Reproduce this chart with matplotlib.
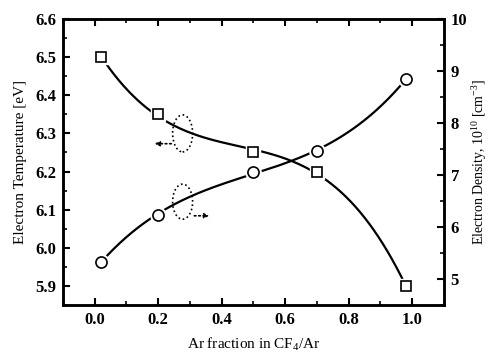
import numpy as np
import matplotlib
matplotlib.use("Agg")
import matplotlib.pyplot as plt
from matplotlib.patches import Ellipse
from matplotlib.ticker import MultipleLocator, FormatStrFormatter

ar_fraction = [0.02, 0.2, 0.5, 0.7, 0.98]
electron_temperature = [6.50, 6.35, 6.25, 6.20, 5.90]
electron_density = [5.33, 6.24, 7.05, 7.46, 8.84]

plt.rcParams['font.family'] = ['Liberation Serif', 'DejaVu Serif']
plt.rcParams['mathtext.fontset'] = 'custom'
plt.rcParams['mathtext.rm'] = 'Liberation Serif'
plt.rcParams['mathtext.it'] = 'Liberation Serif'


def smooth_curve(x, y, deg=3, n=200):
    p = np.polyfit(x, y, deg)
    xs = np.linspace(min(x), max(x), n)
    return xs, np.polyval(p, xs)

fig = plt.figure(figsize=(4.9, 3.52), dpi=100)
ax = fig.add_axes([0.1286, 0.1335, 0.777, 0.8125])
ax2 = ax.twinx()

xs, ys = smooth_curve(ar_fraction, electron_temperature)
ax.plot(xs, ys, color='black', lw=1.6, zorder=2)
ax.plot(ar_fraction, electron_temperature, ls='none', marker='s', ms=10,
        mfc='white', mec='white', zorder=3)
ax.plot(ar_fraction, electron_temperature, ls='none', marker='s', ms=7,
        mfc='white', mec='black', mew=1.2, zorder=4)

xs2, ys2 = smooth_curve(ar_fraction, electron_density)
ax2.plot(xs2, ys2, color='black', lw=1.6, zorder=2)
ax2.plot(ar_fraction, electron_density, ls='none', marker='o', ms=11,
         mfc='white', mec='white', zorder=3)
ax2.plot(ar_fraction, electron_density, ls='none', marker='o', ms=8,
         mfc='white', mec='black', mew=1.2, zorder=4)

ax.set_xlim(-0.1, 1.1)
ax.set_ylim(5.85, 6.6)
ax2.set_ylim(4.5, 10)

ax.xaxis.set_major_locator(MultipleLocator(0.2))
ax.xaxis.set_minor_locator(MultipleLocator(0.1))
ax.yaxis.set_major_locator(MultipleLocator(0.1))
ax.yaxis.set_minor_locator(MultipleLocator(0.05))
ax2.yaxis.set_major_locator(MultipleLocator(1))
ax2.yaxis.set_minor_locator(MultipleLocator(0.5))

ax.tick_params(axis='x', which='both', direction='in', top=True, bottom=True)
ax.tick_params(axis='y', which='both', direction='in', left=True, right=False)
ax2.tick_params(axis='y', which='both', direction='in', right=True)
for a in (ax, ax2):
    a.tick_params(which='major', length=5, width=1.5, labelsize=12, pad=5)
    a.tick_params(which='minor', length=3, width=1.2)
    for s in a.spines.values():
        s.set_linewidth(1.8)
    for lab in a.get_xticklabels() + a.get_yticklabels():
        lab.set_fontweight('bold')

ax.xaxis.set_major_formatter(FormatStrFormatter('%.1f'))
ax.yaxis.set_major_formatter(FormatStrFormatter('%.1f'))
ax2.yaxis.set_major_formatter(FormatStrFormatter('%d'))

ax.set_xlabel('Ar fraction in CF$_4$/Ar', fontsize=11, labelpad=6)
ax.set_ylabel('Electron Temperature [eV]', fontsize=11, labelpad=6)
ax2.set_ylabel('Electron Density, 10$^{10}$ [cm$^{-3}$]', fontsize=10, labelpad=2)

# annotation ellipses with dotted arrows
ax.add_patch(Ellipse((0.277, 6.30), 0.063, 0.097, fill=False, ls=':', lw=1.2, ec='black', zorder=1))
ax.annotate('', xy=(0.18, 6.273), xytext=(0.25, 6.273),
            arrowprops=dict(arrowstyle='-|>', ls=':', lw=1.2, color='black', mutation_scale=7))
ax.add_patch(Ellipse((0.277, 6.121), 0.063, 0.092, fill=False, ls=':', lw=1.2, ec='black', zorder=1))
ax.annotate('', xy=(0.37, 6.084), xytext=(0.305, 6.084),
            arrowprops=dict(arrowstyle='-|>', ls=':', lw=1.2, color='black', mutation_scale=7))

fig.savefig('out.png', dpi=100)
